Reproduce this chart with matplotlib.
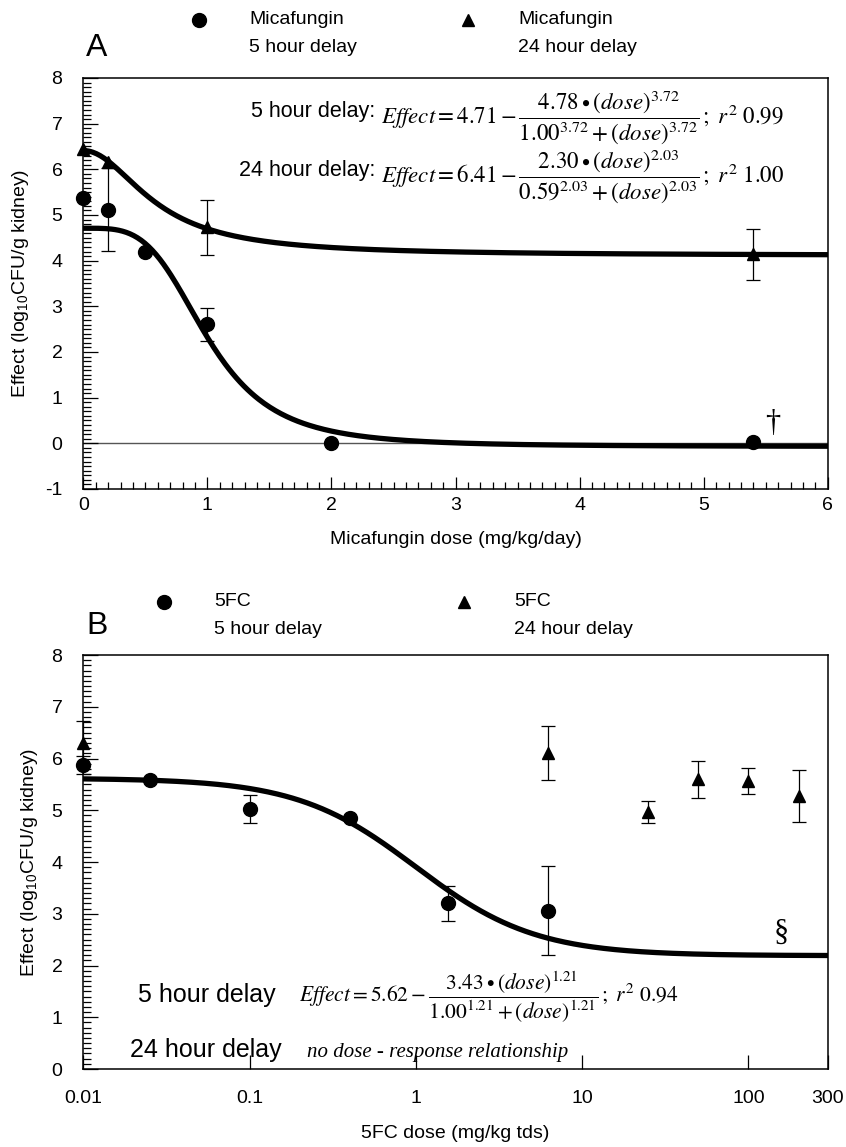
import numpy as np
import matplotlib.pyplot as plt
from matplotlib.lines import Line2D
from matplotlib.ticker import MultipleLocator, FixedLocator, NullLocator

plt.rcParams['font.family'] = ['Liberation Sans', 'DejaVu Sans']
plt.rcParams['mathtext.fontset'] = 'custom'
plt.rcParams['mathtext.rm'] = 'Liberation Sans'
plt.rcParams['mathtext.it'] = 'Liberation Sans:italic'
plt.rcParams['axes.unicode_minus'] = False

# --- panel A: micafungin ---
mica_5h_dose = [0, 0.2, 0.5, 1, 2, 5.4]
mica_5h_effect = [5.38, 5.12, 4.20, 2.61, 0.0, 0.02]
mica_5h_err = [0, 0.9, 0, 0.36, 0, 0]
mica_24h_dose = [0, 0.2, 1, 5.4]
mica_24h_effect = [6.45, 6.15, 4.73, 4.14]
mica_24h_err = [0, 0, 0.6, 0.56]
# fitted Hill model: E0, Emax, EC50, H
mica_5h_fit = [4.71, 4.78, 1.00, 3.72]
mica_24h_fit = [6.41, 2.30, 0.59, 2.03]

# --- panel B: 5FC ---
fc_5h_dose = [0.01, 0.025, 0.1, 0.4, 1.56, 6.25]
fc_5h_effect = [5.87, 5.58, 5.02, 4.86, 3.20, 3.06]
fc_5h_err = [0.17, 0, 0.27, 0, 0.34, 0.86]
fc_24h_dose = [0.01, 6.25, 25, 50, 100, 200]
fc_24h_effect = [6.30, 6.11, 4.96, 5.60, 5.56, 5.28]
fc_24h_err = [0.42, 0.52, 0.21, 0.36, 0.25, 0.50]
fc_5h_fit = [5.62, 3.43, 1.00, 1.21]

fc_ticks = [0.01, 0.1, 1, 10, 100, 300]
fc_ticklabels = ['0.01', '0.1', '1', '10', '100', '300']


def hill(d, p):
    e0, emax, ec50, h = p
    return e0 - emax * d**h / (ec50**h + d**h)


def draw_points(ax, x, y, err, marker, ms):
    xe = [a for a, e in zip(x, err) if e > 0]
    ye = [b for b, e in zip(y, err) if e > 0]
    ee = [e for e in err if e > 0]
    ax.errorbar(xe, ye, yerr=ee, fmt='none', ecolor='black', elinewidth=0.9,
                capsize=5, capthick=0.9, clip_on=False, zorder=3)
    ax.plot(x, y, linestyle='none', marker=marker, color='black', ms=ms,
            clip_on=False, zorder=4)


def style_axes(ax):
    for s in ax.spines.values():
        s.set_linewidth(1.1)
    ax.tick_params(which='both', direction='in', top=False, right=False,
                   labelsize=14, width=0.9)
    ax.tick_params(axis='y', which='major', length=11, pad=15)
    ax.tick_params(axis='y', which='minor', length=6)


fig = plt.figure(figsize=(8.46, 11.47), dpi=100)

eqA_kw = dict(fontsize=16.5, math_fontfamily='stix', ha='left', va='center')
eqB_kw = dict(fontsize=15.5, math_fontfamily='stix', ha='left', va='center')
lab_kw = dict(fontsize=15.5, ha='right', va='center')

# ---------- panel A ----------
axA = fig.add_axes([0.0985, 0.5737, 0.8800, 0.3583])
xs = np.linspace(0, 6, 400)
axA.axhline(0, color='#555555', lw=1.0, zorder=1)
axA.plot(xs, hill(xs, mica_5h_fit), color='black', lw=3.8, zorder=2,
         solid_capstyle='round')
axA.plot(xs, hill(xs, mica_24h_fit), color='black', lw=3.8, zorder=2,
         solid_capstyle='round')
draw_points(axA, mica_5h_dose, mica_5h_effect, mica_5h_err, 'o', 10)
draw_points(axA, mica_24h_dose, mica_24h_effect, mica_24h_err, '^', 9)
axA.set_xlim(0, 6)
axA.set_ylim(-1, 8)
axA.xaxis.set_major_locator(MultipleLocator(1))
axA.xaxis.set_minor_locator(MultipleLocator(0.1))
axA.yaxis.set_major_locator(MultipleLocator(1))
axA.yaxis.set_minor_locator(MultipleLocator(0.1))
style_axes(axA)
axA.tick_params(axis='x', which='major', length=9, pad=6)
axA.tick_params(axis='x', which='minor', length=5)
axA.set_xlabel('Micafungin dose (mg/kg/day)', fontsize=14, labelpad=12)
axA.set_ylabel(r'Effect (log$_{10}$CFU/g kidney)', fontsize=14, labelpad=10)
axA.text(5.56, 0.44, '\u2020', fontsize=22, ha='center', va='center',
         family='Liberation Serif')

axA.text(0.392, 0.918, '5 hour delay:', transform=axA.transAxes, **lab_kw)
axA.text(0.400, 0.902,
         r'$Effect = 4.71 - \dfrac{4.78\bullet(dose)^{3.72}}{1.00^{3.72}+(dose)^{3.72}}\,;\ r^{2}\ 0.99$',
         transform=axA.transAxes, **eqA_kw)
axA.text(0.392, 0.776, '24 hour delay:', transform=axA.transAxes, **lab_kw)
axA.text(0.400, 0.760,
         r'$Effect = 6.41 - \dfrac{2.30\bullet(dose)^{2.03}}{0.59^{2.03}+(dose)^{2.03}}\,;\ r^{2}\ 1.00$',
         transform=axA.transAxes, **eqA_kw)

# ---------- panel B ----------
axB = fig.add_axes([0.0985, 0.0680, 0.8800, 0.3609])
xl = np.logspace(-2, np.log10(300), 400)
axB.plot(xl, hill(xl, fc_5h_fit), color='black', lw=3.8, zorder=2,
         solid_capstyle='round')
draw_points(axB, fc_5h_dose, fc_5h_effect, fc_5h_err, 'o', 10)
draw_points(axB, fc_24h_dose, fc_24h_effect, fc_24h_err, '^', 9)
axB.set_xscale('log')
axB.set_xlim(0.01, 300)
axB.set_ylim(0, 8)
axB.xaxis.set_major_locator(FixedLocator(fc_ticks))
axB.xaxis.set_minor_locator(NullLocator())
axB.set_xticklabels(fc_ticklabels)
axB.yaxis.set_major_locator(MultipleLocator(1))
axB.yaxis.set_minor_locator(MultipleLocator(0.1))
style_axes(axB)
axB.tick_params(axis='x', which='major', length=10, pad=15)
axB.set_xlabel('5FC dose (mg/kg tds)', fontsize=14, labelpad=13)
axB.set_ylabel(r'Effect (log$_{10}$CFU/g kidney)', fontsize=14, labelpad=8)
axB.text(157, 2.62, '\u00a7', fontsize=22, ha='center', va='center',
         family='Liberation Serif')

axB.text(0.073, 0.178, '5 hour delay', transform=axB.transAxes, fontsize=18,
         ha='left', va='center')
axB.text(0.29, 0.174,
         r'$Effect = 5.62 - \dfrac{3.43\bullet(dose)^{1.21}}{1.00^{1.21}+(dose)^{1.21}}\,;\ r^{2}\ 0.94$',
         transform=axB.transAxes, **eqB_kw)
axB.text(0.063, 0.03, '24 hour delay', transform=axB.transAxes, fontsize=18,
         ha='left', va='baseline')
axB.text(0.30, 0.03, 'no dose - response relationship', transform=axB.transAxes,
         fontsize=15, ha='left', va='baseline', family='Liberation Serif',
         style='italic')

# ---------- legends and panel letters ----------
def fig_xy(px, py):
    return px / 846, 1 - py / 1147

def legend_entry(px, py, marker, ms, line1, line2):
    x, y = fig_xy(px, py)
    fig.add_artist(Line2D([x], [y], marker=marker, color='black', ms=ms,
                          transform=fig.transFigure))
    tx, ty = fig_xy(px + 50, py)
    fig.text(tx, ty, line1, fontsize=14, ha='left', va='center')
    tx, ty = fig_xy(px + 50, py + 28)
    fig.text(tx, ty, line2, fontsize=14, ha='left', va='center')

legend_entry(199, 20, 'o', 10, 'Micafungin', '5 hour delay')
legend_entry(468, 20, '^', 8, 'Micafungin', '24 hour delay')
legend_entry(164, 602, 'o', 10, '5FC', '5 hour delay')
legend_entry(464, 602, '^', 8, '5FC', '24 hour delay')

fx, fy = fig_xy(97, 48)
fig.text(fx, fy, 'A', fontsize=23, ha='center', va='center')
fx, fy = fig_xy(97, 626)
fig.text(fx, fy, 'B', fontsize=23, ha='center', va='center')

fig.savefig('out.png', dpi=100)
